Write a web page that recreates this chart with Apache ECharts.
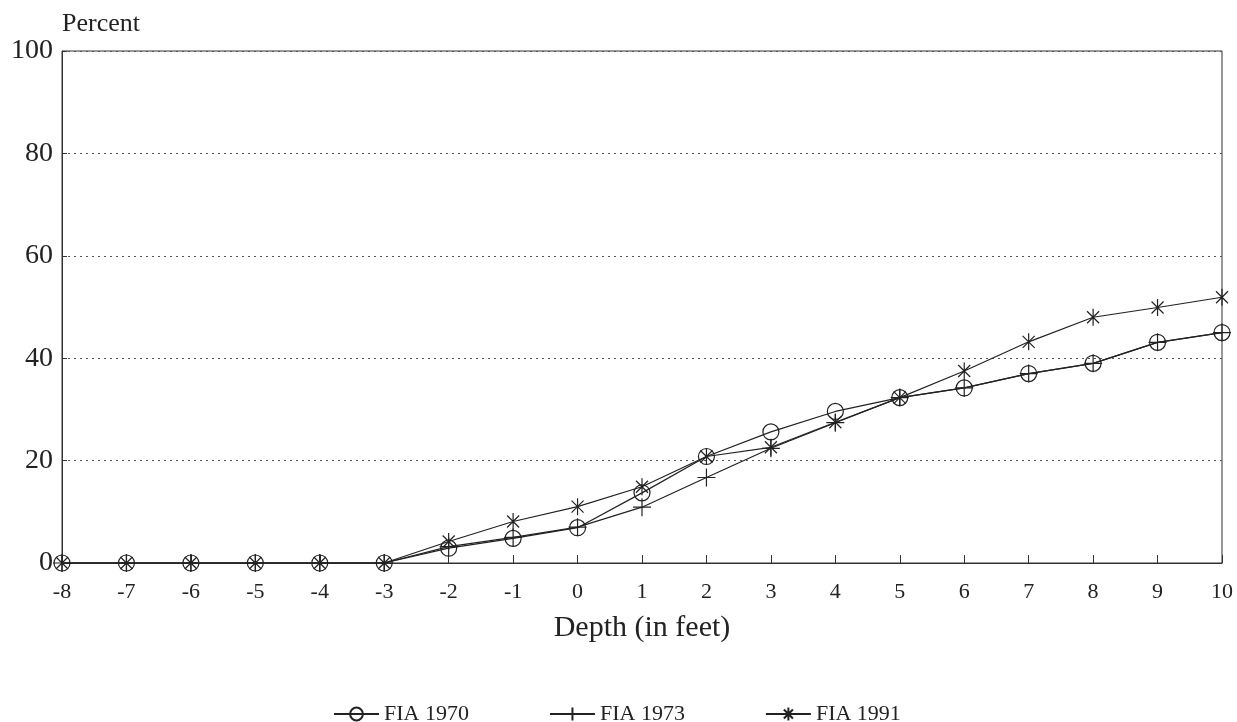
<!DOCTYPE html>
<html>
<head>
<meta charset="utf-8">
<script src="https://cdn.jsdelivr.net/npm/echarts@6/dist/echarts.min.js"></script>
<style>html,body{margin:0;padding:0;background:#fff;}#c{width:1237px;height:722px;}</style>
</head>
<body>
<div id="c"></div>
<script>
var depths = [-8,-7,-6,-5,-4,-3,-2,-1,0,1,2,3,4,5,6,7,8,9,10];
var fia1970 = [0,0,0,0,0,0,2.9,4.8,6.9,13.7,20.8,25.6,29.6,32.3,34.2,37.0,39.0,43.1,45.0];
var fia1973 = [0,0,0,0,0,0,3.2,5.0,7.0,10.9,16.7,22.4,27.4,32.3,34.2,37.0,39.0,43.1,45.0];
var fia1991 = [0,0,0,0,0,0,4.2,8.1,11.0,14.9,20.8,22.6,27.5,32.3,37.5,43.2,48.0,49.9,51.9];
var seriesNames = ['FIA 1970','FIA 1973','FIA 1991'];
var yTicks = [0,20,40,60,80,100];

function pairs(vals){ return depths.map(function(d,i){ return [d, vals[i]]; }); }

var serif = 'Liberation Serif';
var ink = '#222';
var circlePath = 'path://M10,0A10,10 0 1,1 -10,0A10,10 0 1,1 10,0Z';
var plusPath = 'path://M0,-10L0,10M-10,0L10,0';
var starPath = 'path://M0,-10L0,10M-7.07,-7.07L7.07,7.07M-7.07,7.07L7.07,-7.07M-10,0L-9.9,0M10,0L9.9,0';

function mkSeries(name, vals, symbol, size){
  return {
    name: name, type: 'line', data: pairs(vals),
    symbol: symbol, symbolSize: size, showAllSymbol: true,
    lineStyle: {color: ink, width: 1.2},
    itemStyle: {color: 'rgba(0,0,0,0)', borderColor: ink, borderWidth: 1.2},
    emphasis: {disabled: true}, z: 3
  };
}

var chart = echarts.init(document.getElementById('c'));
chart.setOption({
  backgroundColor: '#fff',
  animation: false,
  title: {text: 'Percent', left: 57, top: 6,
    textStyle: {fontFamily: serif, fontSize: 26, fontWeight: 'normal', color: ink}},
  grid: {left: 62, right: 15, top: 51, bottom: 159, show: true, borderColor: '#333', borderWidth: 1},
  legend: {
    data: seriesNames, left: 328, top: 698, itemWidth: 45, itemHeight: 16, itemGap: 80,
    textStyle: {fontFamily: serif, fontSize: 22, color: ink}
  },
  xAxis: {
    type: 'value', min: -8, max: 10, interval: 1,
    name: 'Depth (in feet)', nameLocation: 'middle', nameGap: 50,
    nameTextStyle: {fontFamily: serif, fontSize: 30, color: ink},
    axisLine: {lineStyle: {color: '#333', width: 1}},
    axisTick: {inside: true, length: 8, lineStyle: {color: '#333'}},
    axisLabel: {fontFamily: serif, fontSize: 22, color: ink, margin: 18},
    splitLine: {show: false}
  },
  yAxis: {
    type: 'value', min: 0, max: 100, interval: 20,
    axisLine: {show: true, onZero: false, lineStyle: {color: '#333', width: 1}},
    axisTick: {show: true, inside: true, length: 5, lineStyle: {color: '#333'}},
    axisLabel: {fontFamily: serif, fontSize: 28, color: ink, margin: 9,
      formatter: function(v){ return yTicks.indexOf(v) >= 0 ? String(v) : ''; }},
    splitLine: {show: true, lineStyle: {color: '#555', type: [2, 4], width: 1}}
  },
  series: [
    mkSeries(seriesNames[0], fia1970, circlePath, 16),
    mkSeries(seriesNames[1], fia1973, plusPath, 18),
    mkSeries(seriesNames[2], fia1991, starPath, 17)
  ]
});
</script>
</body>
</html>
